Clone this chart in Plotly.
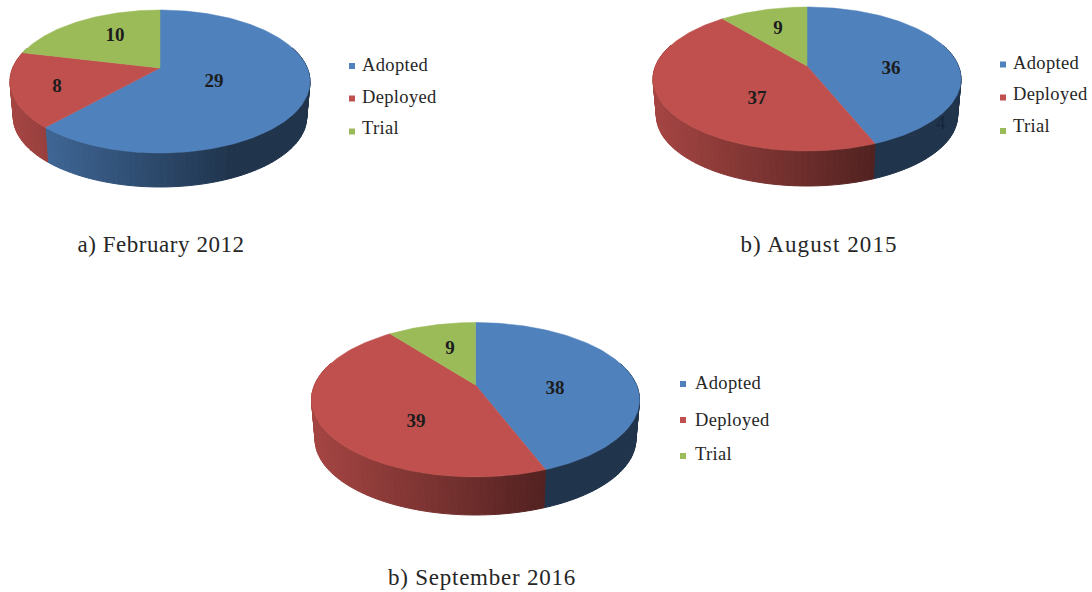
import math
import plotly.graph_objects as go

# ---- data ----
categories = ["Adopted", "Deployed", "Trial"]
adopted = [29, 36, 38]
deployed = [8, 37, 39]
trial = [10, 9, 9]
captions = ["a) February 2012", "b) August 2015", "b) September 2016"]

# ---- styling / layout ----
COLORS = ["#4F81BD", "#C0504D", "#9BBB59"]
SERIF = "Liberation Serif"
W, H = 1092, 592
PIES = [
    dict(cx=160, rx=150, top=10, apex=68, front=153, depth=34, shrink=0.978,
         marker_x=352, marker_y=[66, 98.5, 131.5], text_x=362, text_y=[65, 97, 128],
         label_xy=[(214, 81), (57, 86), (115, 35)], caption_xy=(161, 245)),
    dict(cx=807, rx=154, top=7, apex=66, front=151, depth=35, shrink=0.978,
         marker_x=1003, marker_y=[64.5, 97.5, 131], text_x=1013, text_y=[63, 94, 126],
         label_xy=[(891, 68), (757, 98), (778, 28)], caption_xy=(819, 245)),
    dict(cx=475.5, rx=164, top=322.5, apex=385, front=477, depth=38, shrink=0.978,
         marker_x=683, marker_y=[384, 420, 456], text_x=695, text_y=[383, 420, 454],
         label_xy=[(555, 388), (416, 421), (450, 348)], caption_xy=(482, 578)),
]
# tracking of the text, px per character
CAPTION_TRACKING = [0.55, 1.1, 0.75]
LEGEND_TRACKING = 0.35


def project(p, theta, bottom=False):
    """Perspective view of a pie rim point; theta clockwise from 12 o'clock."""
    back = p["apex"] - p["top"]
    frnt = p["front"] - p["apex"]
    k = (frnt - back) / (frnt + back)
    a = frnt * (1 - k)
    b = p["rx"] * math.sqrt(1 - k * k)
    u, v = math.sin(theta), -math.cos(theta)
    x = b * u / (1 - k * v)
    y = a * v / (1 - k * v)
    if bottom:
        x *= p["shrink"]
        y *= p["shrink"]
        y += p["depth"] + frnt * (1 - p["shrink"])
    return p["cx"] + x, p["apex"] + y


def shade(hex_color, f):
    r, g, b = (int(hex_color[i:i + 2], 16) for i in (1, 3, 5))
    return f"rgb({round(r * f)},{round(g * f)},{round(b * f)})"


def wall_factor(frac):
    if frac >= 0.72:
        return 0.40
    return 0.86 - (0.86 - 0.42) * (frac / 0.72)


def arange(a, b, step):
    n = max(2, int(abs(b - a) / step) + 1)
    return [a + (b - a) * i / (n - 1) for i in range(n)]


fig = go.Figure()
STEP = math.radians(2)
for i, p in enumerate(PIES):
    values = [adopted[i], deployed[i], trial[i]]
    total = sum(values)
    start = 0.0
    spans = []
    for val in values:
        end = start + val / total * 2 * math.pi
        spans.append((start, end))
        start = end
    # side walls
    for (a0, a1), col in zip(spans, COLORS):
        ts = arange(a0, a1, STEP)
        for t0, t1 in zip(ts[:-1], ts[1:]):
            if -math.cos((t0 + t1) / 2) < -0.3:
                continue
            x0, y0 = project(p, t0)
            x1, y1 = project(p, t1)
            x2, y2 = project(p, t1, True)
            x3, y3 = project(p, t0, True)
            frac = ((x0 + x1) / 2 - (p["cx"] - p["rx"])) / (2 * p["rx"])
            c = shade(col, wall_factor(frac))
            fig.add_trace(go.Scatter(
                x=[x0, x1, x2, x3, x0], y=[y0, y1, y2, y3, y0], mode="lines",
                fill="toself", fillcolor=c, line=dict(color=c, width=1),
                hoverinfo="skip", showlegend=False))
    # top face
    for (a0, a1), col, name in zip(spans, COLORS, categories):
        pts = [project(p, t) for t in arange(a0, a1, math.radians(1))]
        xs = [p["cx"]] + [q[0] for q in pts] + [p["cx"]]
        ys = [p["apex"]] + [q[1] for q in pts] + [p["apex"]]
        fig.add_trace(go.Scatter(
            x=xs, y=ys, mode="lines", fill="toself", fillcolor=col,
            line=dict(color=col, width=0.5), name=name, hoverinfo="name",
            showlegend=False))
    # value labels
    fig.add_trace(go.Scatter(
        x=[q[0] for q in p["label_xy"]], y=[q[1] + 1.5 for q in p["label_xy"]],
        mode="text", text=[f"<b>{v}</b>" for v in values], textposition="middle center",
        textfont=dict(family=SERIF, size=19, color="#1c1c1c"),
        hoverinfo="skip", showlegend=False))
    # legend
    fig.add_trace(go.Scatter(
        x=[p["marker_x"]] * 3, y=p["marker_y"], mode="markers",
        marker=dict(symbol="square", size=6, color=COLORS),
        hoverinfo="skip", showlegend=False))
    fig.add_trace(go.Scatter(
        x=[p["text_x"]] * 3, y=[y + 1.5 for y in p["text_y"]], mode="text",
        text=categories, textposition="middle right",
        textfont=dict(family=SERIF, size=18.5, color="#262626"),
        hoverinfo="skip", showlegend=False))
    # caption
    fig.add_trace(go.Scatter(
        x=[p["caption_xy"][0]], y=[p["caption_xy"][1] + 1.5], mode="text",
        text=[captions[i]], textposition="middle center",
        textfont=dict(family=SERIF, size=23, color="#262626"),
        hoverinfo="skip", showlegend=False))

# stray faint mark visible on the wall of the second pie
fig.add_annotation(x=941, y=122, text="4", showarrow=False,
                   font=dict(family=SERIF, size=19, color="#14263c"))

fig.update_layout(
    width=W, height=H, margin=dict(l=0, r=0, t=0, b=0),
    paper_bgcolor="white", plot_bgcolor="white", showlegend=False,
    xaxis=dict(range=[0, W], visible=False, fixedrange=True),
    yaxis=dict(range=[H, 0], visible=False, fixedrange=True),
)

tracking = {c: t for c, t in zip(captions, CAPTION_TRACKING)}
tracking.update({c: LEGEND_TRACKING for c in categories})
post = "document.body.style.margin='0';" + """
var tr = %s;
document.querySelectorAll('svg text').forEach(function (el) {
  var s = tr[el.textContent];
  if (s) { el.style.letterSpacing = s + 'px'; }
});
""" % str(tracking)
fig.write_html("out.html", config={"displayModeBar": False}, post_script=post)
